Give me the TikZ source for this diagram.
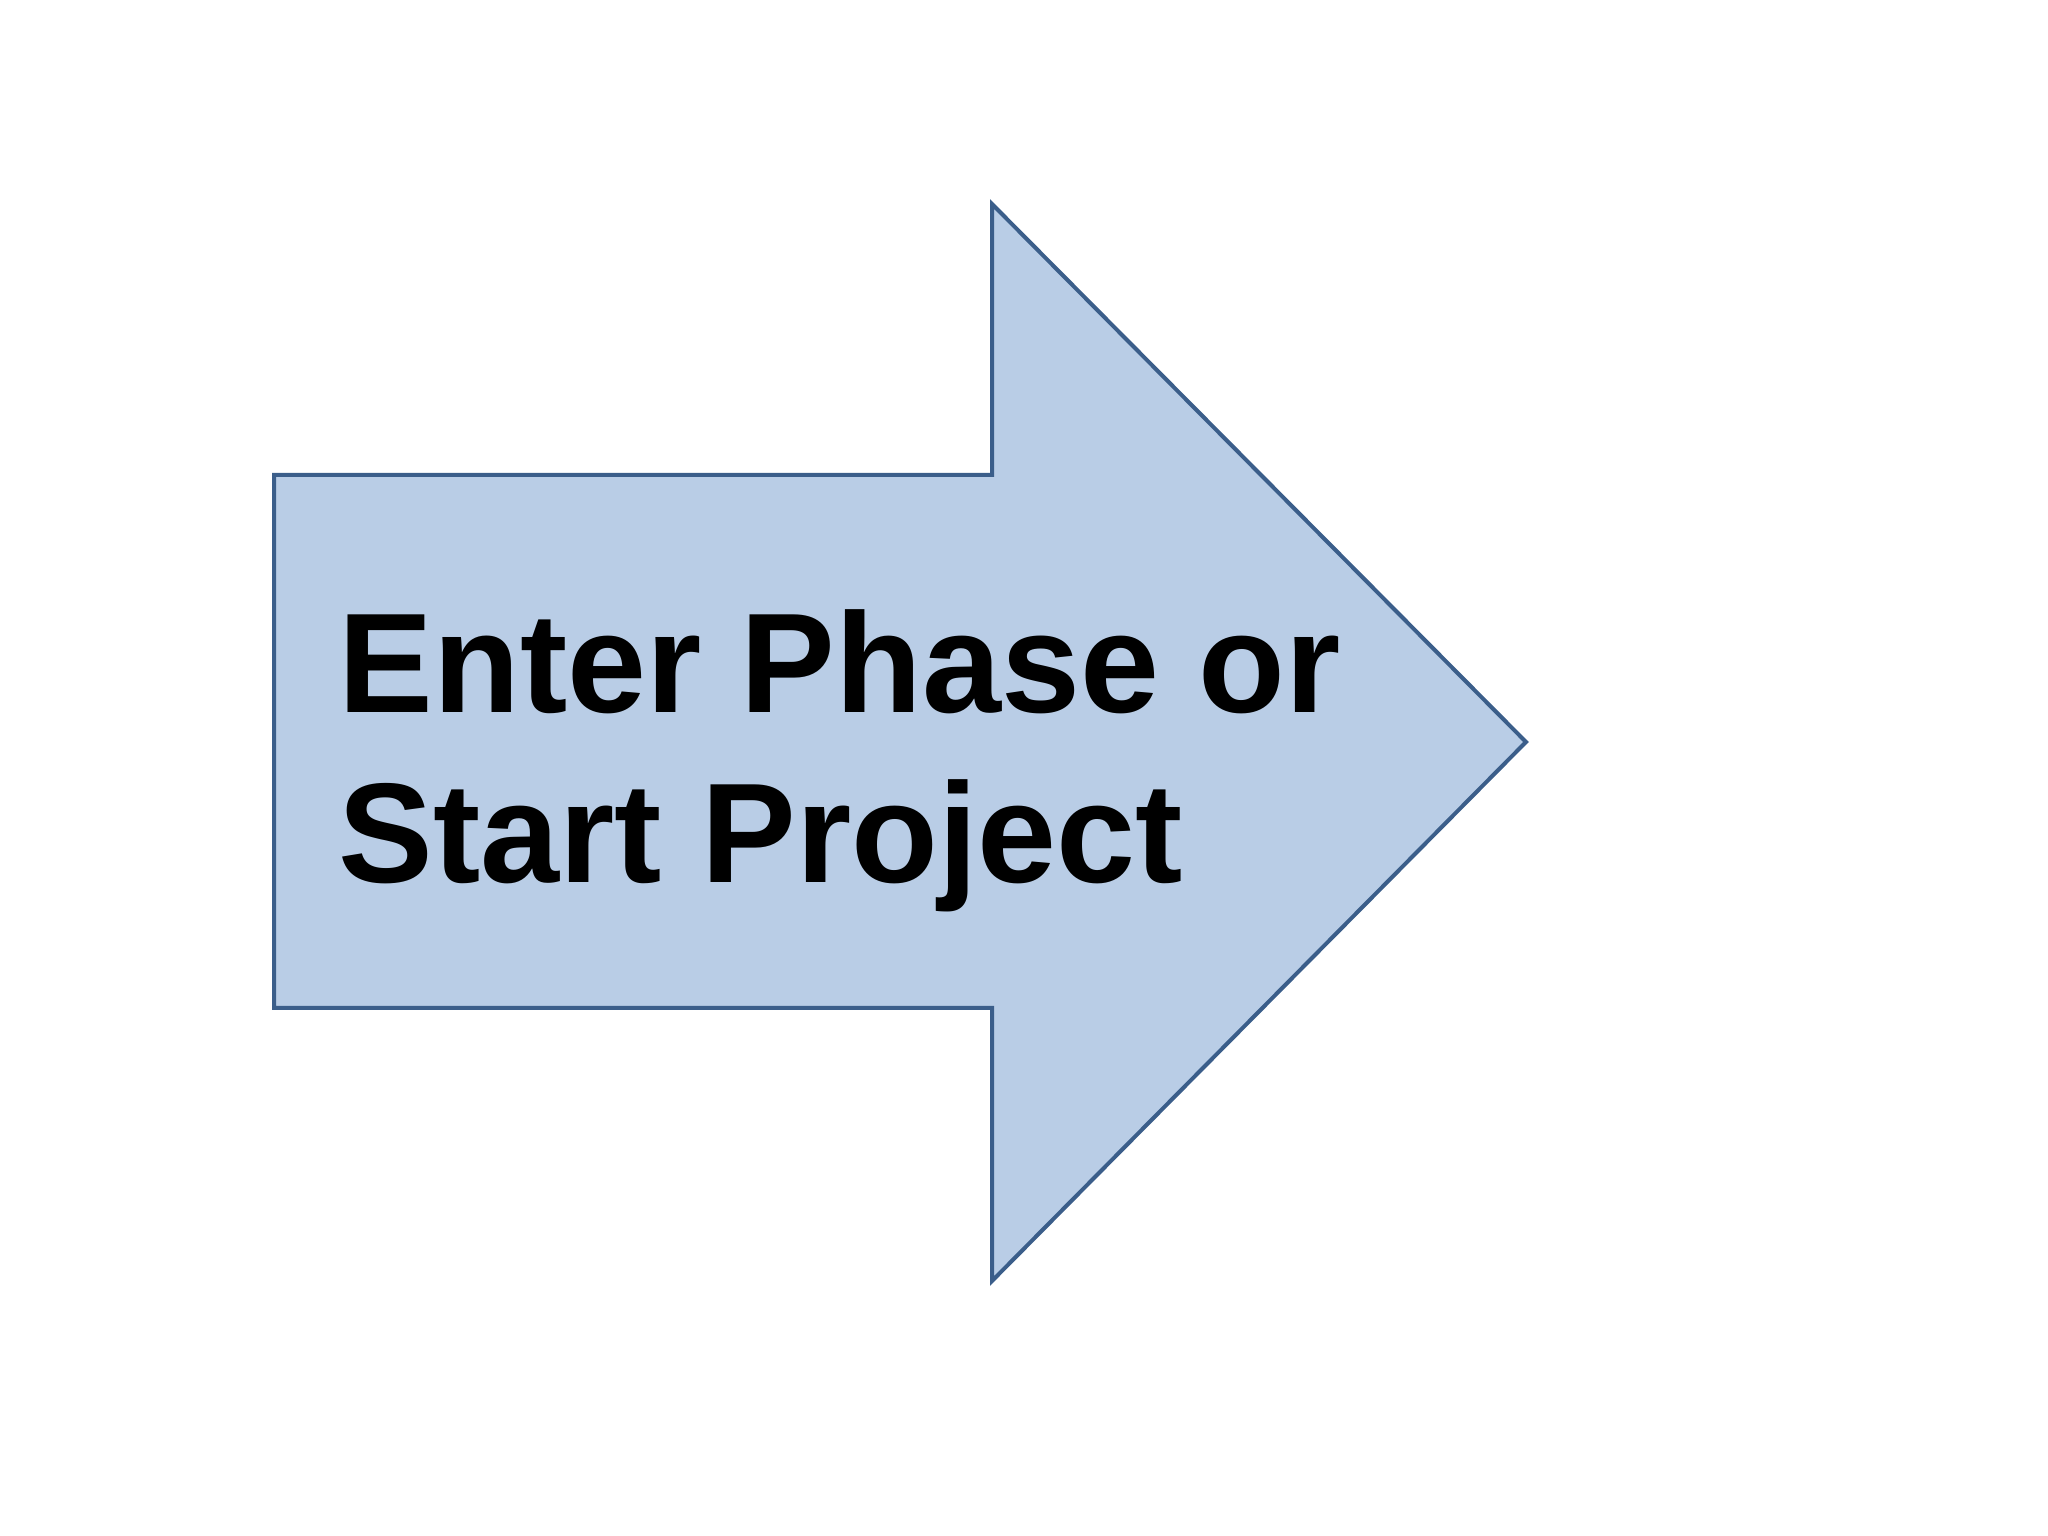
\documentclass[tikz,border=0pt]{standalone}
\usepackage{xcolor}
\usepackage{tikz}
\usepackage{fontspec}
\setmainfont{Liberation Sans}

\definecolor{arrowfill}{HTML}{B9CDE6}
\definecolor{arrowline}{HTML}{3B5E8A}

\begin{document}
\begin{tikzpicture}
\useasboundingbox (0,0) rectangle (20.48,15.36);

\draw [fill=arrowfill, draw=arrowline, line width=0.04cm, line join=miter]
  (2.74,10.61) -- (9.92,10.61) -- (9.92,13.32) -- (15.26,7.94)
  -- (9.92,2.55) -- (9.92,5.28) -- (2.74,5.28) -- cycle;

\node (label) [anchor=base west, inner sep=0pt, align=left,
  font=\fontsize{40.4pt}{48.6pt}\selectfont\bfseries] at (3.38,6.53)
  {Enter Phase or\\Start Project};
\end{tikzpicture}
\end{document}
